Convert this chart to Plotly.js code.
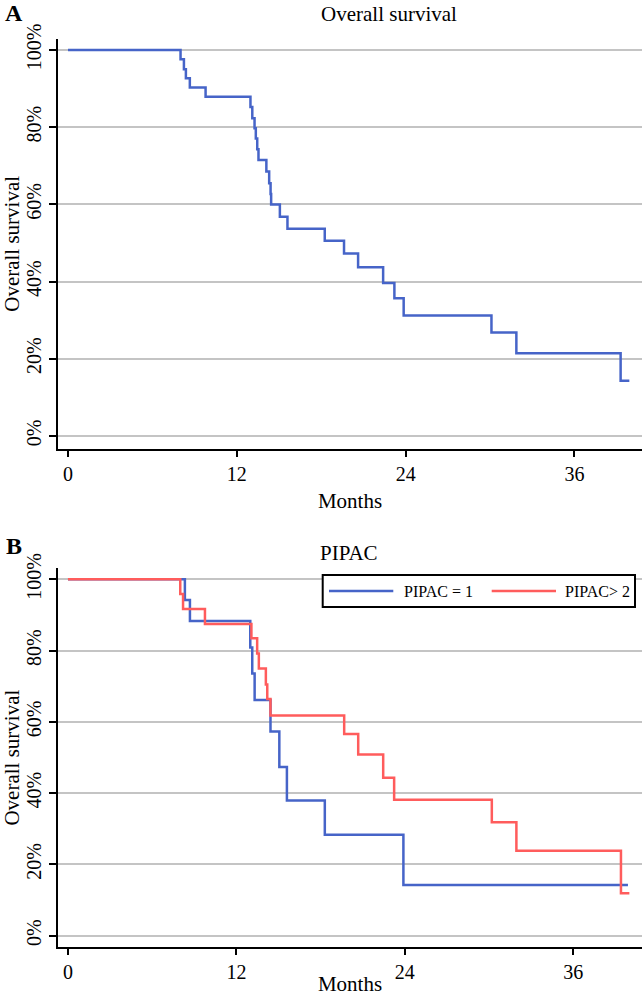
<!DOCTYPE html>
<html>
<head>
<meta charset="utf-8">
<script src="https://cdn.plot.ly/plotly-3.0.1.min.js"></script>
<style>html,body{margin:0;padding:0;background:#fff;}#chart{width:642px;height:996px;}</style>
</head>
<body>
<div id="chart"></div>
<script>
// ---- data ----
const xTickVals = [0, 12, 24, 36];
const yTickVals = [0, 20, 40, 60, 80, 100];

const titleA = "Overall survival";
const titleB = "PIPAC";
const xTitle = "Months";
const yTitle = "Overall survival";

// Panel A: overall survival (Kaplan-Meier steps)
const osTime = [0, 8.0, 8.24, 8.38, 8.66, 9.78, 12.97, 13.1, 13.26, 13.35, 13.45, 13.54, 14.1, 14.3, 14.4, 14.44, 15.06, 15.6, 18.25, 19.62, 20.62, 22.4, 23.2, 23.86, 30.1, 31.87, 39.28, 39.9];
const osSurv = [100, 97.6, 95.0, 92.7, 90.3, 87.9, 85.2, 82.3, 79.7, 77.1, 74.3, 71.5, 68.5, 65.5, 62.7, 60.0, 56.8, 53.7, 50.6, 47.3, 43.7, 39.6, 35.7, 31.2, 26.8, 21.4, 14.3, 14.3];

// Panel B: PIPAC groups
const p1Name = "PIPAC = 1";
const p1Time = [0, 8.33, 8.69, 12.99, 13.13, 13.3, 14.43, 15.06, 15.6, 18.3, 23.9, 39.9];
const p1Surv = [100, 94.2, 88.3, 80.9, 73.6, 66.1, 57.3, 47.3, 37.9, 28.3, 14.2, 14.2];

const p2Name = "PIPAC> 2";
const p2Time = [0, 8.0, 8.2, 9.76, 13.07, 13.48, 13.6, 14.1, 14.2, 14.43, 19.68, 20.68, 22.46, 23.24, 30.2, 31.95, 39.4, 40.0];
const p2Surv = [100, 95.9, 91.7, 87.5, 83.5, 79.2, 75.0, 70.5, 66.4, 61.8, 56.6, 50.8, 44.3, 38.1, 31.8, 23.8, 11.9, 11.9];

// ---- styling ----
const FONT = '"Liberation Serif", "Times New Roman", serif';
const BLUE = '#4664c8';
const RED = '#ff5c5c';
const W = 642, H = 996, L = 58;
const px2x = p => (p - L) / (W - L);
const px2y = p => 1 - p / H;

const traces = [
  {x: osTime, y: osSurv, xaxis: 'x', yaxis: 'y', type: 'scatter', mode: 'lines',
   line: {shape: 'hv', color: BLUE, width: 2.5}, name: titleA, showlegend: false},
  {x: p1Time, y: p1Surv, xaxis: 'x2', yaxis: 'y2', type: 'scatter', mode: 'lines',
   line: {shape: 'hv', color: BLUE, width: 2.5}, name: p1Name, showlegend: false},
  {x: p2Time, y: p2Surv, xaxis: 'x2', yaxis: 'y2', type: 'scatter', mode: 'lines',
   line: {shape: 'hv', color: RED, width: 2.5}, name: p2Name, showlegend: false}
];

function xAxis(anchor, range, standoff) {
  return {
    anchor: anchor, domain: [0, 1], range: range,
    tickmode: 'array', tickvals: xTickVals, ticktext: xTickVals.map(String),
    ticks: 'outside', ticklen: 6, tickwidth: 2, tickcolor: '#000',
    showline: true, linecolor: '#000', linewidth: 2,
    showgrid: false, zeroline: false, automargin: false,
    tickfont: {family: FONT, size: 20, color: '#000'},
    title: {text: xTitle, font: {family: FONT, size: 21, color: '#000'}, standoff: standoff}
  };
}
function yAxis(anchor, domain, range) {
  return {
    anchor: anchor, domain: domain, range: range,
    tickmode: 'array', tickvals: yTickVals, ticktext: yTickVals.map(v => v + '%'),
    tickangle: -90,
    ticks: 'outside', ticklen: 7, tickwidth: 2, tickcolor: '#000',
    showline: true, linecolor: '#000', linewidth: 2,
    showgrid: true, gridcolor: '#c4c4c4', gridwidth: 2,
    zeroline: false, automargin: false,
    tickfont: {family: FONT, size: 20, color: '#000'},
    title: {text: yTitle, font: {family: FONT, size: 21, color: '#000'}, standoff: 8}
  };
}

const layout = {
  width: W, height: H,
  margin: {l: L, r: 0, t: 0, b: 0, pad: 0},
  paper_bgcolor: '#fff', plot_bgcolor: '#fff',
  showlegend: false,
  xaxis: xAxis('y', [-0.71, 40.8], 10),
  yaxis: yAxis('x', [px2y(448.7), px2y(39)], [-3.3, 102.85]),
  xaxis2: xAxis('y2', [-0.71, 40.9], 5),
  yaxis2: yAxis('x2', [px2y(947), px2y(568.3)], [-3.2, 103.1]),
  annotations: [
    {text: '<b>A</b>', x: px2x(14), y: px2y(13), xref: 'paper', yref: 'paper',
     xanchor: 'center', yanchor: 'middle', showarrow: false, font: {family: FONT, size: 24, color: '#000'}},
    {text: '<b>B</b>', x: px2x(14), y: px2y(546), xref: 'paper', yref: 'paper',
     xanchor: 'center', yanchor: 'middle', showarrow: false, font: {family: FONT, size: 24, color: '#000'}},
    {text: titleA, x: px2x(389), y: px2y(14), xref: 'paper', yref: 'paper',
     xanchor: 'center', yanchor: 'middle', showarrow: false, font: {family: FONT, size: 21, color: '#000'}},
    {text: titleB, x: px2x(349), y: px2y(553), xref: 'paper', yref: 'paper',
     xanchor: 'center', yanchor: 'middle', showarrow: false, font: {family: FONT, size: 21, color: '#000'}},
    {text: p1Name, x: px2x(401.7), y: px2y(591), xref: 'paper', yref: 'paper',
     xanchor: 'left', yanchor: 'middle', showarrow: false, font: {family: FONT, size: 16, color: '#000'}},
    {text: p2Name, x: px2x(562.7), y: px2y(591), xref: 'paper', yref: 'paper',
     xanchor: 'left', yanchor: 'middle', showarrow: false, font: {family: FONT, size: 16, color: '#000'}}
  ],
  shapes: [
    {type: 'rect', xref: 'paper', yref: 'paper', x0: px2x(322.7), x1: px2x(635), y0: px2y(607), y1: px2y(575),
     line: {color: '#000', width: 2}, fillcolor: '#fff', layer: 'above'},
    {type: 'line', xref: 'paper', yref: 'paper', x0: px2x(329), x1: px2x(393.3), y0: px2y(591), y1: px2y(591),
     line: {color: BLUE, width: 2.5}, layer: 'above'},
    {type: 'line', xref: 'paper', yref: 'paper', x0: px2x(491.7), x1: px2x(556), y0: px2y(591), y1: px2y(591),
     line: {color: RED, width: 2.5}, layer: 'above'}
  ]
};

Plotly.newPlot('chart', traces, layout, {staticPlot: true, displayModeBar: false});
</script>
</body>
</html>
